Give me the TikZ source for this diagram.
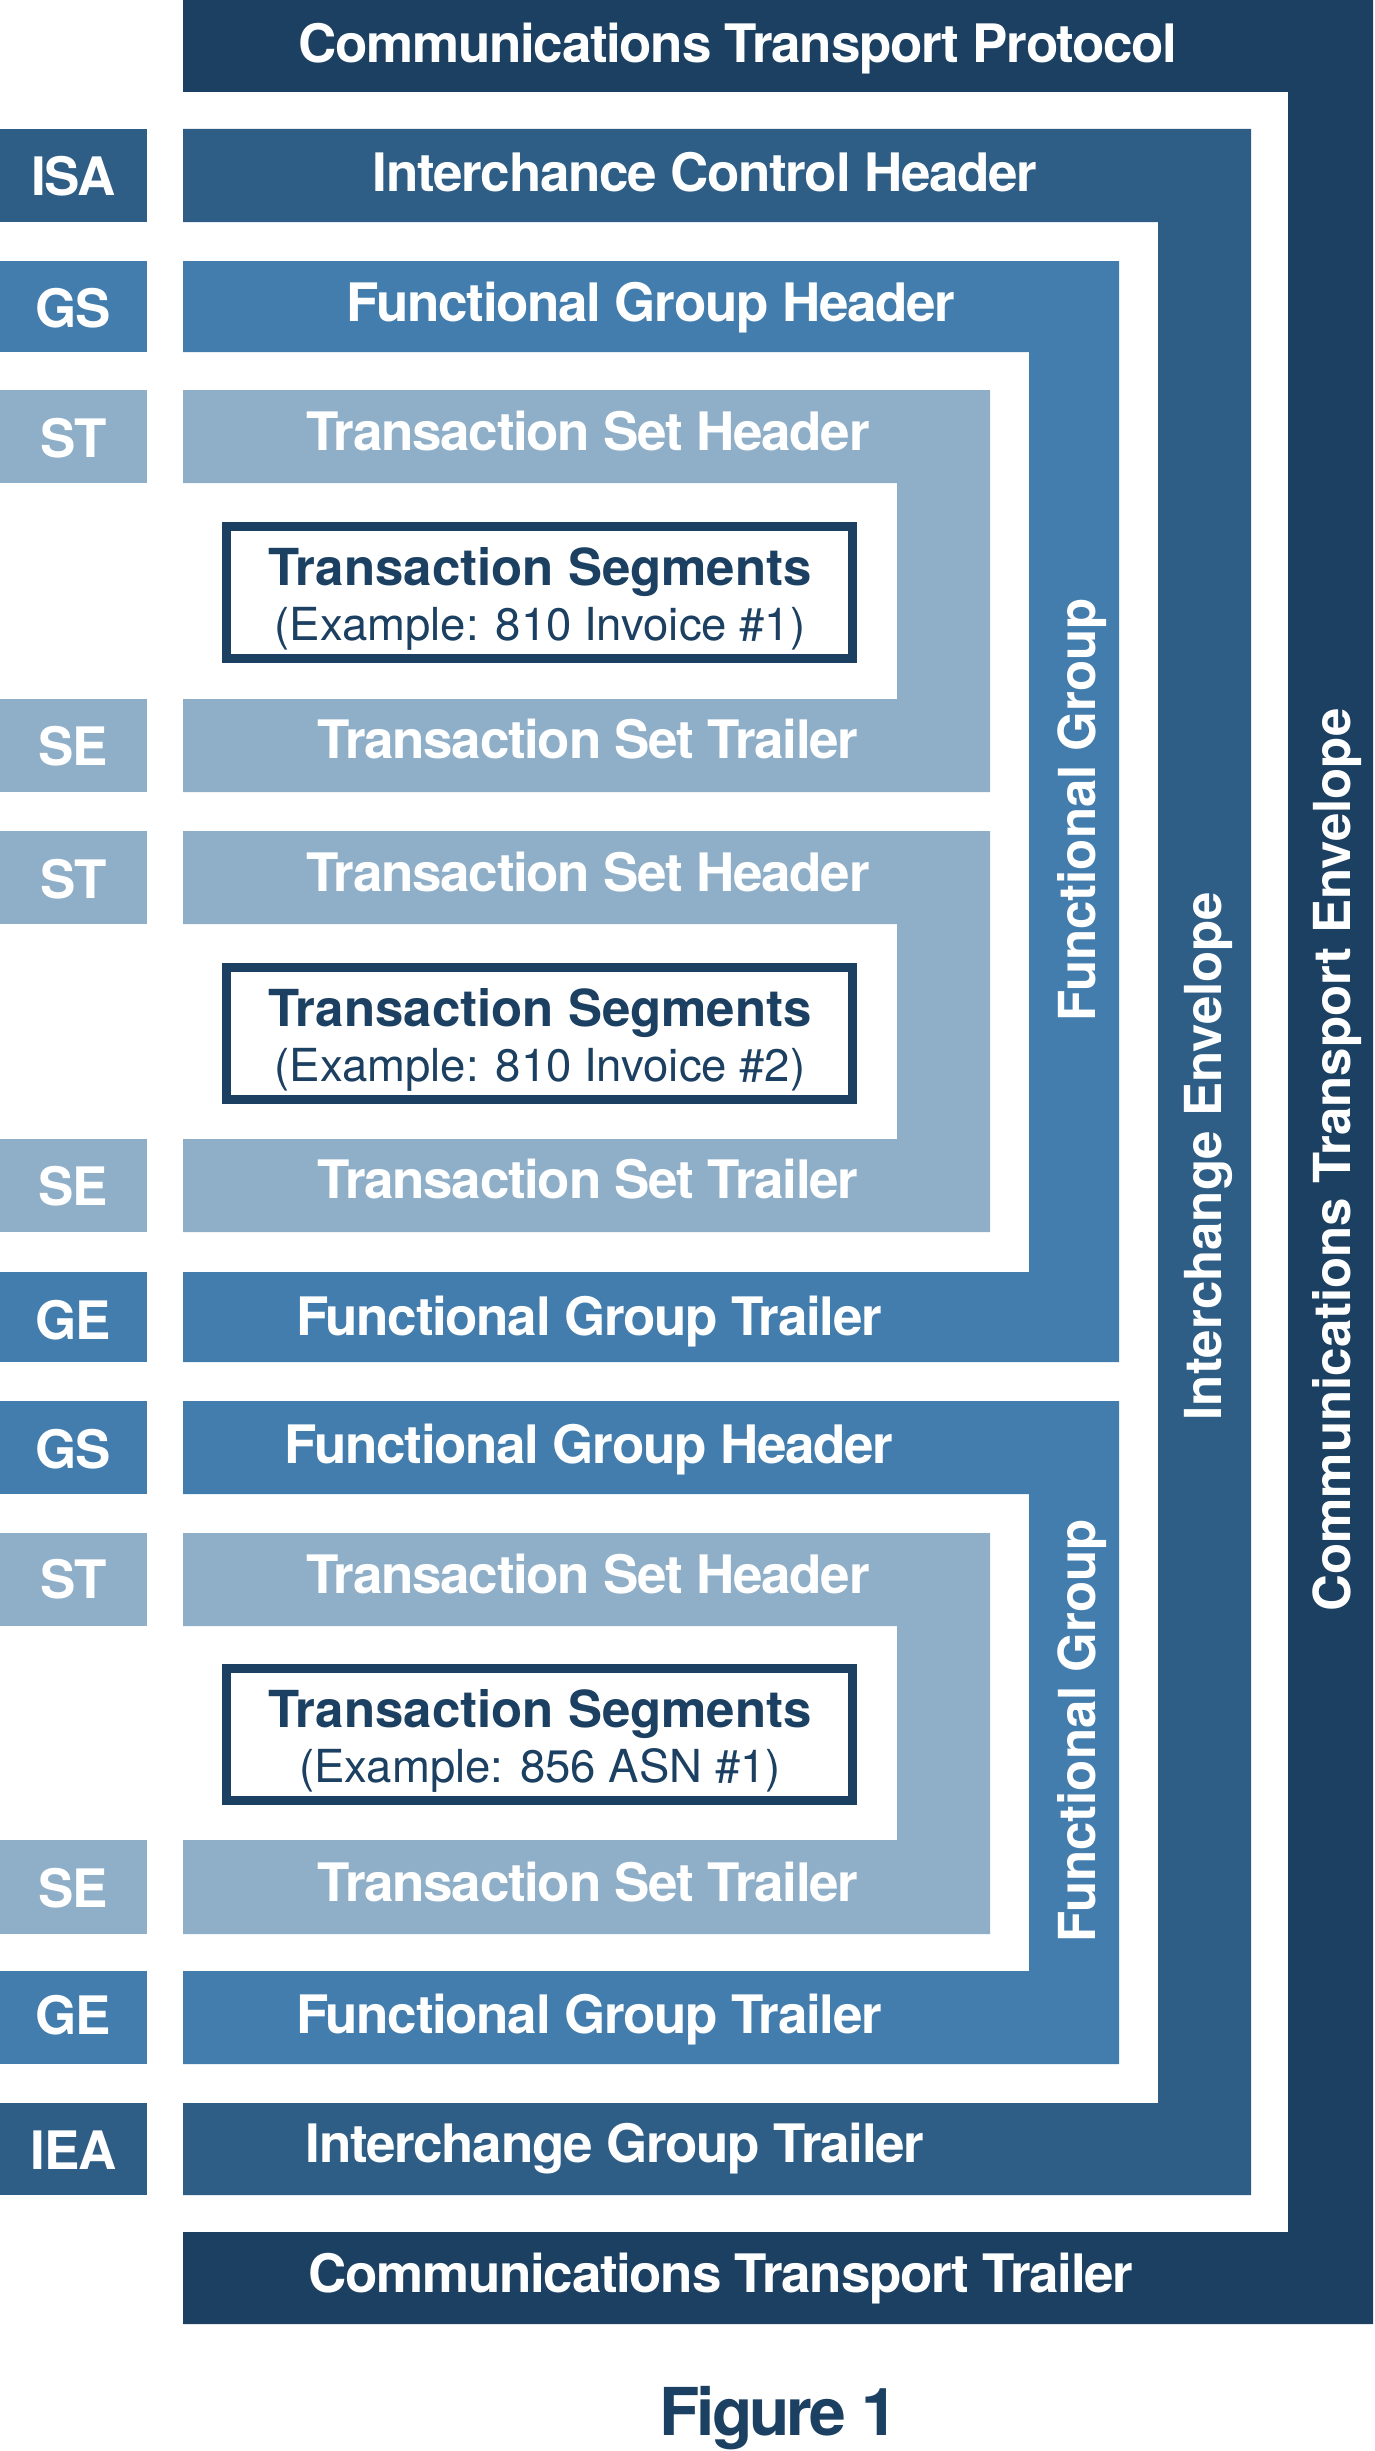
\documentclass[tikz,border=0pt]{standalone}
\usepackage{fontspec}
\setmainfont{TeX Gyre Heros}
\newfontfamily\edibarfam{TeX Gyre Heros}[LetterSpace=-2.5]
\newfontfamily\edivertfam{TeX Gyre Heros}
\newfontfamily\edifigfam{TeX Gyre Heros}[LetterSpace=-4.5]
\definecolor{ctnavy}{HTML}{1C4061}
\definecolor{icblue}{HTML}{2E5D85}
\definecolor{fgblue}{HTML}{437DAD}
\definecolor{tsblue}{HTML}{8FAFC8}
\tikzset{
  bartext/.style={font=\edibarfam\bfseries\fontsize{53}{60}\selectfont, text=white, anchor=base, inner sep=0pt},
  vtext/.style={font=\edivertfam\bfseries\fontsize{51}{60}\selectfont, text=white, rotate=90, anchor=base, inner sep=0pt},
  segbox/.style={draw=ctnavy, line width=9pt, fill=white, minimum width=626pt, minimum height=132pt, inner sep=0pt},
  segtitle/.style={font=\edivertfam\bfseries\fontsize{51}{60}\selectfont, text=ctnavy, anchor=base, inner sep=0pt},
  segsub/.style={font=\edivertfam\fontsize{45.5}{55}\selectfont, text=ctnavy, anchor=base, inner sep=0pt},
}
\begin{document}
\begin{tikzpicture}[x=1pt,y=-1pt]
\useasboundingbox (0,0) rectangle (1374,2451);
% Communications transport envelope
\fill[ctnavy] (183,0) -- (1373,0) -- (1373,2324) -- (183,2324) -- (183,2232) -- (1288,2232) -- (1288,92) -- (183,92) -- cycle;
% Interchange envelope
\fill[icblue] (183,129) -- (1251,129) -- (1251,2195) -- (183,2195) -- (183,2103) -- (1158,2103) -- (1158,222) -- (183,222) -- cycle;
% Functional groups
\fill[fgblue] (183,261) -- (1119,261) -- (1119,1362) -- (183,1362) -- (183,1272) -- (1029,1272) -- (1029,352) -- (183,352) -- cycle;
\fill[fgblue] (183,1401) -- (1119,1401) -- (1119,2064) -- (183,2064) -- (183,1971) -- (1029,1971) -- (1029,1494) -- (183,1494) -- cycle;
% Transaction sets
\fill[tsblue] (183,390) -- (990,390) -- (990,792) -- (183,792) -- (183,699) -- (897,699) -- (897,483) -- (183,483) -- cycle;
\fill[tsblue] (183,831) -- (990,831) -- (990,1232) -- (183,1232) -- (183,1139) -- (897,1139) -- (897,924) -- (183,924) -- cycle;
\fill[tsblue] (183,1533) -- (990,1533) -- (990,1934) -- (183,1934) -- (183,1840) -- (897,1840) -- (897,1626) -- (183,1626) -- cycle;
% Left label boxes
\fill[icblue] (0,129) rectangle (147,222);
\fill[fgblue] (0,261) rectangle (147,352);
\fill[tsblue] (0,390) rectangle (147,483);
\fill[tsblue] (0,699) rectangle (147,792);
\fill[tsblue] (0,831) rectangle (147,924);
\fill[tsblue] (0,1139) rectangle (147,1232);
\fill[fgblue] (0,1272) rectangle (147,1362);
\fill[fgblue] (0,1401) rectangle (147,1494);
\fill[tsblue] (0,1533) rectangle (147,1626);
\fill[tsblue] (0,1840) rectangle (147,1934);
\fill[fgblue] (0,1971) rectangle (147,2064);
\fill[icblue] (0,2103) rectangle (147,2195);
% Label texts
\node[bartext] (lisa) at (73.5,196) {ISA};
\node[bartext] (lgs1) at (73.5,327) {GS};
\node[bartext] (lst1) at (73.5,457) {ST};
\node[bartext] (lse1) at (73.5,765) {SE};
\node[bartext] (lst2) at (73.5,898) {ST};
\node[bartext] (lse2) at (73.5,1205) {SE};
\node[bartext] (lge1) at (73.5,1339) {GE};
\node[bartext] (lgs2) at (73.5,1468) {GS};
\node[bartext] (lst3) at (73.5,1598) {ST};
\node[bartext] (lse3) at (73.5,1907) {SE};
\node[bartext] (lge2) at (73.5,2034) {GE};
\node[bartext] (liea) at (73.5,2169) {IEA};
% Bar texts
\node[bartext] (ctp) at (738,63) {Communications Transport Protocol};
\node[bartext] (ich) at (705,192) {Interchance Control Header};
\node[bartext] (fgh1) at (651,321) {Functional Group Header};
\node[bartext] (tsh1) at (588,450) {Transaction Set Header};
\node[bartext] (tst1) at (588,758) {Transaction Set Trailer};
\node[bartext] (tsh2) at (588,891) {Transaction Set Header};
\node[bartext] (tst2) at (588,1198) {Transaction Set Trailer};
\node[bartext] (fgt1) at (589,1335) {Functional Group Trailer};
\node[bartext] (fgh2) at (589,1463) {Functional Group Header};
\node[bartext] (tsh3) at (588,1593) {Transaction Set Header};
\node[bartext] (tst3) at (588,1901) {Transaction Set Trailer};
\node[bartext] (fgt2) at (589,2033) {Functional Group Trailer};
\node[bartext] (igt) at (615,2162) {Interchange Group Trailer};
\node[bartext] (ctt) at (721,2292) {Communications Transport Trailer};
% Vertical texts
\node[vtext] (cte) at (1350,1160) {Communications Transport Envelope};
\node[vtext] (ie) at (1221,1156) {Interchange Envelope};
\node[vtext] (fg1) at (1095,810) {Functional Group};
\node[vtext] (fg2) at (1095,1731) {Functional Group};
% Transaction segment boxes
\node[segbox] (box1) at (539.5,592.5) {};
\node[segtitle] (b1t) at (540,585) {Transaction Segments};
\node[segsub] (b1s) at (540,640) {(Example: 810 Invoice \#1)};
\node[segbox] (box2) at (539.5,1033.5) {};
\node[segtitle] (b2t) at (540,1026) {Transaction Segments};
\node[segsub] (b2s) at (540,1081) {(Example: 810 Invoice \#2)};
\node[segbox] (box3) at (539.5,1734.5) {};
\node[segtitle] (b3t) at (540,1727) {Transaction Segments};
\node[segsub] (b3s) at (540,1782) {(Example: 856 ASN \#1)};
% Caption
\node[font=\edifigfam\bfseries\fontsize{66}{70}\selectfont, text=ctnavy, anchor=base, inner sep=0pt] (fig) at (779,2435) {Figure 1};
\end{tikzpicture}
\end{document}
